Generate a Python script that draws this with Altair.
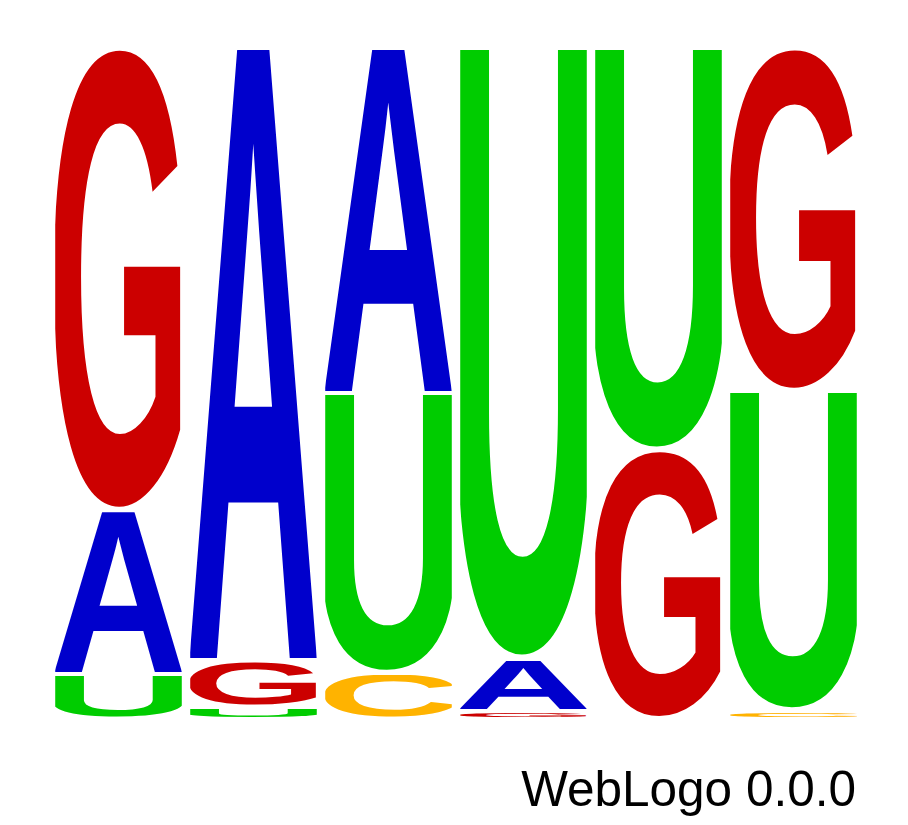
import base64
import pandas as pd
import altair as alt

# sequence logo: six positions, letter probabilities
positions = [1, 2, 3, 4, 5, 6]
letters = [
    ['U', 'A', 'G'],
    ['U', 'G', 'A'],
    ['C', 'U', 'A'],
    ['G', 'A', 'U'],
    ['G', 'U'],
    ['C', 'U', 'G'],
]
probs = [
    [0.067, 0.244, 0.689],
    [0.018, 0.070, 0.912],
    [0.069, 0.417, 0.514],
    [0.012, 0.078, 0.910],
    [0.401, 0.599],
    [0.013, 0.476, 0.511],
]

colors = {'A': '#0000CC', 'C': '#FFB300', 'G': '#CC0000', 'U': '#00CC00'}

# glyph bounding boxes (Liberation Sans Bold, 2048 units/em)
bbox = {
    'A': (58, 0, 1425, 1409),
    'C': (94, -25, 1380, 1432),
    'G': (98, -25, 1484, 1432),
    'U': (150, -25, 1327, 1409),
}


def glyph_url(ch):
    x0, y0, x1, y1 = bbox[ch]
    svg = (
        f'<svg xmlns="http://www.w3.org/2000/svg" width="{x1 - x0}" height="{y1 - y0}" '
        f'viewBox="{x0} {-y1} {x1 - x0} {y1 - y0}" preserveAspectRatio="none">'
        f'<text x="0" y="0" font-family="Liberation Sans, Arial, Helvetica, sans-serif" '
        f'font-weight="bold" font-size="2048" fill="{colors[ch]}">{ch}</text></svg>'
    )
    return 'data:image/svg+xml;base64,' + base64.b64encode(svg.encode()).decode()


rows = []
for pos, lets, ps in zip(positions, letters, probs):
    bottom = 0.0
    for ch, p in zip(lets, ps):
        rows.append({'pos': pos, 'letter': ch, 'prob': p,
                     'y0': bottom, 'y1': bottom + p, 'img': glyph_url(ch)})
        bottom += p
df = pd.DataFrame(rows)

chart = alt.Chart(df).mark_image(
    aspect=False,
    yOffset=-2,
    y2Offset=2
).encode(
    x=alt.X('pos:O', axis=None,
            scale=alt.Scale(paddingInner=0.0625, paddingOuter=0.03125)),
    y=alt.Y('y0:Q', axis=None, scale=alt.Scale(domain=[0, 1], nice=False)),
    y2='y1:Q',
    url='img:N'
).properties(
    width=810,
    height=671,
    padding={'left': 43, 'top': 40, 'right': 0, 'bottom': 0},
    title=alt.TitleParams(
        'WebLogo 0.0.0',
        orient='bottom',
        anchor='end',
        baseline='alphabetic',
        offset=87,
        dx=-5,
        font='Liberation Sans',
        fontSize=49.5,
        fontWeight='normal',
        color='black'
    )
).configure_view(
    strokeWidth=0
)

chart.save("out.html", embed_options={"renderer": "svg", "actions": False})
